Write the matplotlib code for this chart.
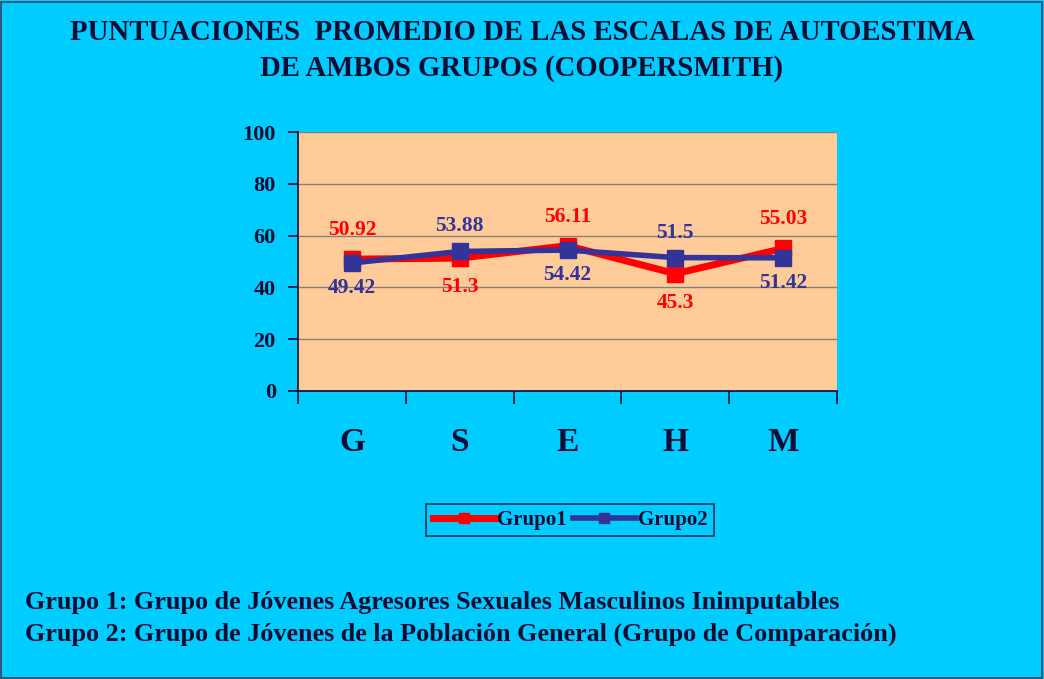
import matplotlib.pyplot as plt
from matplotlib.patches import Rectangle

plt.rcParams['font.family'] = ['Liberation Serif', 'DejaVu Serif']
plt.rcParams['font.weight'] = 'bold'

categories = ['G', 'S', 'E', 'H', 'M']
grupo1 = [50.92, 51.3, 56.11, 45.3, 55.03]
grupo2 = [49.42, 53.88, 54.42, 51.5, 51.42]
# which side the data labels sit on (1 = above, -1 = below)
side1 = [1, -1, 1, -1, 1]
side2 = [-1, 1, -1, 1, -1]
yticks = [0, 20, 40, 60, 80, 100]

bg = '#00CCFF'
navy = '#0d0d33'
red = '#FF0000'
blue = '#333399'

fig = plt.figure(figsize=(10.44, 6.79), dpi=100)
fig.patch.set_facecolor(bg)
fig.patches.append(Rectangle((0.001, 0.001), 0.997, 0.996, transform=fig.transFigure,
                             fill=False, edgecolor='#334466', linewidth=1.2))

fig.text(0.5, 1 - 33 / 679, 'PUNTUACIONES  PROMEDIO DE LAS ESCALAS DE AUTOESTIMA',
         ha='center', va='center', fontsize=20.7, color=navy)
fig.text(0.5, 1 - 68 / 679, 'DE AMBOS GRUPOS (COOPERSMITH)',
         ha='center', va='center', fontsize=20.7, color=navy)

ax = fig.add_axes([298 / 1044, 1 - 391 / 679, 539 / 1044, 259 / 679])
ax.set_facecolor('#FFCC99')
x = [i + 0.5 for i in range(len(categories))]

ax.plot(x, grupo1, color=red, lw=5, marker='s', ms=12, zorder=3, label='Grupo1')
ax.plot(x, grupo2, color=blue, lw=4, marker='s', ms=12, zorder=4, label='Grupo2')

for xi, v, s in zip(x, grupo1, side1):
    ax.annotate(f'{v:g}', (xi, v), xytext=(0, 21 * s), textcoords='offset points',
                ha='center', va='center', color=red, fontsize=15.5, zorder=5)
for xi, v, s in zip(x, grupo2, side2):
    ax.annotate(f'{v:g}', (xi, v), xytext=(0, 18 * s), textcoords='offset points',
                ha='center', va='center', color=blue, fontsize=15.5, zorder=5)

ax.set_xlim(0, 5)
ax.set_ylim(0, 100)
ax.set_yticks(yticks)
ax.set_xticks(range(6))
ax.set_xticklabels([])
ax.set_xticks(x, minor=True)
ax.set_xticklabels(categories, minor=True, fontsize=24, color=navy)
ax.tick_params(axis='x', which='minor', length=0, pad=26)
ax.tick_params(axis='x', which='major', length=9, direction='out', color=navy, width=1.2)
ax.tick_params(axis='y', length=7, direction='out', color=navy, width=1.2,
               labelsize=16, labelcolor=navy, pad=9)
ax.grid(axis='y', color='#808080', lw=1)
ax.set_axisbelow(True)
for sp in ['top', 'right']:
    ax.spines[sp].set_visible(False)
for sp in ['left', 'bottom']:
    ax.spines[sp].set_color(navy)
    ax.spines[sp].set_linewidth(1.2)

leg = fig.legend(loc='center', bbox_to_anchor=(570 / 1044, 1 - 520 / 679), ncol=2,
                 frameon=True, fancybox=False, fontsize=15, handlelength=3,
                 columnspacing=0.3, handletextpad=0.1, borderpad=0.3, markerscale=0.6)
leg.get_frame().set_facecolor(bg)
leg.get_frame().set_edgecolor(navy)
leg.get_frame().set_linewidth(1.2)
for t in leg.get_texts():
    t.set_color(navy)

fig.text(25 / 1044, 1 - 602 / 679,
         'Grupo 1: Grupo de Jóvenes Agresores Sexuales Masculinos Inimputables',
         ha='left', va='center', fontsize=18.8, color=navy)
fig.text(25 / 1044, 1 - 634 / 679,
         'Grupo 2: Grupo de Jóvenes de la Población General (Grupo de Comparación)',
         ha='left', va='center', fontsize=18.8, color=navy)

fig.savefig('out.png', dpi=100, facecolor=bg)
